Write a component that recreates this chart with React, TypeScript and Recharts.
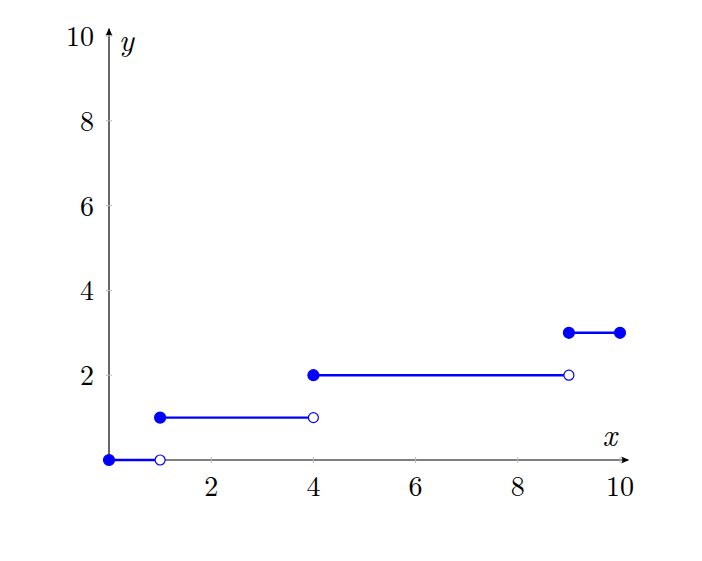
import React from 'react';
import { LineChart, Line, XAxis, YAxis, ReferenceLine, ReferenceDot } from 'recharts';

const segStarts = [0, 1, 4, 9];
const segEnds = [1, 4, 9, 10];
const segValues = [0, 1, 2, 3];
const rightClosed = [false, false, false, true];
const xTicks = [2, 4, 6, 8, 10];
const yTicks = [2, 4, 6, 8, 10];

const BLUE = '#0000ff';
const FONT = '"Latin Modern Roman", "CMU Serif", "Liberation Serif", serif';
const textStyle: React.CSSProperties = { fontFamily: FONT, fontSize: 28, fill: '#000' };
const italStyle: React.CSSProperties = { fontFamily: FONT, fontSize: 31, fontStyle: 'italic', fill: '#000' };

const segments = segStarts.map((s, i) => [
  { x: s, y: segValues[i], closed: true },
  { x: segEnds[i], y: segValues[i], closed: rightClosed[i] },
]);

const Dot = (props: any) => {
  const { cx, cy, payload, index } = props;
  if (cx == null || cy == null) return null;
  return (
    <circle key={index} cx={cx} cy={cy} r={payload.closed ? 5.5 : 5} fill={payload.closed ? BLUE : '#fff'} stroke={BLUE} strokeWidth={1.2} />
  );
};

const XTick = (props: any) => {
  const { x, y, payload } = props;
  return (
    <g>
      <line x1={x} x2={x} y1={y - 3} y2={y + 3} stroke="#bbbbbb" strokeWidth={1} />
      <text x={x} y={y + 36} textAnchor="middle" style={textStyle}>{payload.value}</text>
    </g>
  );
};

const YTick = (props: any) => {
  const { x, y, payload } = props;
  return (
    <g>
      <line x1={x - 3} x2={x + 3} y1={y} y2={y} stroke="#bbbbbb" strokeWidth={1} />
      <text x={x - 15} y={y + 10} textAnchor="end" style={textStyle}>{payload.value}</text>
    </g>
  );
};

const ArrowRight = (props: any) => {
  const { cx, cy } = props;
  return <path d={`M ${cx} ${cy} L ${cx - 8} ${cy - 3.5} Q ${cx - 5.5} ${cy} ${cx - 8} ${cy + 3.5} Z`} fill="#000" />;
};
const ArrowUp = (props: any) => {
  const { cx, cy } = props;
  return <path d={`M ${cx} ${cy} L ${cx - 3.5} ${cy + 8} Q ${cx} ${cy + 5.5} ${cx + 3.5} ${cy + 8} Z`} fill="#000" />;
};
const makeLabel = (txt: string) => (props: any) => {
  const { cx, cy } = props;
  return <text x={cx} y={cy} textAnchor="middle" style={italStyle}>{txt}</text>;
};

export default function App() {
  return (
    <div style={{ position: 'absolute', left: 0, top: 0, width: 702, height: 561, background: '#fff' }}>
      <LineChart width={702} height={561} margin={{ top: 36, right: 82, bottom: 71, left: 79 }}>
        <XAxis type="number" dataKey="x" domain={[0, 10]} ticks={xTicks} axisLine={false} tickLine={false} tickSize={0} tickMargin={0} height={30} tick={<XTick />} interval={0} />
        <YAxis type="number" dataKey="y" domain={[0, 10]} ticks={yTicks} axisLine={false} tickLine={false} tickSize={0} tickMargin={0} width={30} tick={<YTick />} interval={0} />
        <ReferenceLine segment={[{ x: 0, y: 0 }, { x: 10.16, y: 0 }]} stroke="#000" strokeWidth={1.2} ifOverflow="visible" />
        <ReferenceLine segment={[{ x: 0, y: 0 }, { x: 0, y: 10.17 }]} stroke="#000" strokeWidth={1.2} ifOverflow="visible" />
        <ReferenceDot x={10.18} y={0} ifOverflow="visible" shape={ArrowRight} />
        <ReferenceDot x={0} y={10.19} ifOverflow="visible" shape={ArrowUp} />
        <ReferenceDot x={9.8} y={0.34} ifOverflow="visible" shape={makeLabel('x')} />
        <ReferenceDot x={0.34} y={9.65} ifOverflow="visible" shape={makeLabel('y')} />
        {segments.map((seg, i) => (
          <Line key={i} data={seg} dataKey="y" type="linear" stroke={BLUE} strokeWidth={2.4} dot={<Dot />} activeDot={false} isAnimationActive={false} />
        ))}
      </LineChart>
    </div>
  );
}
